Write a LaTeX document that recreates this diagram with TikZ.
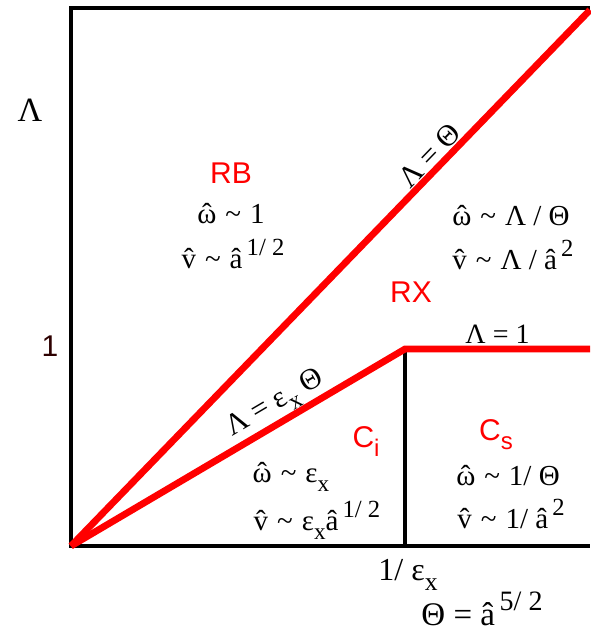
\documentclass[tikz,border=0pt]{standalone}
\usepackage{fontspec}
\setmainfont{Liberation Serif}
\newfontfamily\arialfont{Liberation Sans}
\usetikzlibrary{calc}
\definecolor{mred}{RGB}{255,0,0}
\definecolor{dred}{RGB}{45,0,0}
\newcommand{\hatc}[1]{\ooalign{#1\cr\hidewidth ˆ\hidewidth\cr}}
\newcommand{\wh}{\hatc{ω}}
\newcommand{\vh}{\hatc{v}}
\newcommand{\ah}{â}
\newcommand{\tl}{\hspace{0.06em}\textasciitilde\hspace{0.06em}}
\newcommand{\sups}[1]{\raisebox{0.45em}{\scalebox{0.85}{#1}}}
\newcommand{\subs}[1]{\raisebox{-0.3em}{\scalebox{0.8}{#1}}}
\newcommand{\epx}{ε\subs{x}}

\begin{document}
\begin{tikzpicture}[x=1pt,y=-1pt,
  lbl/.style={font=\fontsize{29}{31}\selectfont,inner sep=0pt},
  reg/.style={font=\arialfont\fontsize{30}{32}\selectfont,text=mred,inner sep=0pt},
  axl/.style={font=\fontsize{30}{32}\selectfont,inner sep=0pt},
  bnd/.style={mred,line width=6.8pt},
  ax/.style={black,line width=3.5pt}
]
\useasboundingbox (0,0) rectangle (590,632);
% frame and breaks
\coordinate (O)  at (71,546);
\coordinate (tl) at (71,8);
\coordinate (tr) at (590,8);
\coordinate (br) at (590,546);
\coordinate (k)  at (405,349);
\coordinate (kb) at (405,546);
\coordinate (re) at (590,349);
\coordinate (dr) at (590,10);
\draw[ax] (tr) -- (tl) -- (O) -- (br);
\draw[ax] (k) -- (kb);
\draw[bnd] (O) -- (dr);
\draw[bnd] (O) -- (k) -- (re);
\path (O) -- (dr) node[axl,pos=0.71,sloped,above=4pt] (ltheta) {Λ = Θ};
\path (O) -- (k) node[axl,pos=0.64,sloped,above=3pt] (leps) {Λ = \epx{} Θ};
\path (k) -- (re) node[lbl,font=\fontsize{28}{30}\selectfont,midway,above=5pt] (lone) {Λ = 1};
% axes
\node[axl,font=\fontsize{34}{36}\selectfont] (lam) at (30,110) {Λ};
\node[axl,font=\fontsize{33}{35}\selectfont] (th) at (482,609) {Θ = \ah\sups{\,5/ 2}};
\node[axl,font=\fontsize{32}{34}\selectfont] (ie) at (408,575) {1/ \epx};
\node[reg,text=dred] (one) at (50,346) {1};
% regions
\node[reg] (rb) at (231,173) {RB};
\node[lbl] (rbw) at (231,214) {\wh{} \tl{} 1};
\node[lbl] (rbv) at (233,254) {\vh{} \tl{} \ah\sups{\,1/ 2}};
\node[lbl] (rxw) at (511,216) {\wh{} \tl{} Λ / Θ};
\node[lbl] (rxv) at (513,255) {\vh{} \tl{} Λ / \ah\sups{\,2}};
\node[reg] (rx) at (411,292) {RX};
\node[reg] (ci) at (366,442) {C\subs{i}};
\node[lbl] (ciw) at (291,480) {\wh{} \tl{} \epx};
\node[lbl] (civ) at (317,520) {\vh{} \tl{} \epx\ah\sups{\,1/ 2}};
\node[reg] (cs) at (496,435) {C\subs{s}};
\node[lbl] (csw) at (508,476) {\wh{} \tl{} 1/ Θ};
\node[lbl] (csv) at (511,514) {\vh{} \tl{} 1/ \ah\sups{\,2}};
\end{tikzpicture}
\end{document}
